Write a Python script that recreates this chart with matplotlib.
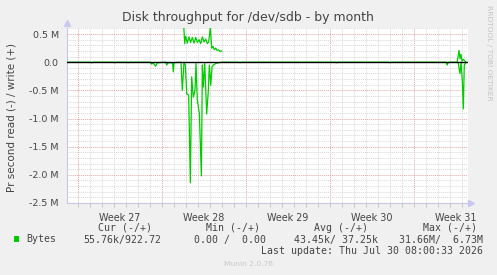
#!/usr/bin/env python3
import numpy as np
import matplotlib
matplotlib.use("Agg")
import matplotlib.pyplot as plt
from matplotlib.ticker import FixedLocator

W, H = 497, 275
nan = np.nan

# x in days from Monday of week 27, values in M bytes/s
week_labels = ["Week 27", "Week 28", "Week 29", "Week 30", "Week 31"]
week_starts = [0, 7, 14, 21, 28]

y_ticks = [0.5, 0.0, -0.5, -1.0, -1.5, -2.0, -2.5]
y_tick_labels = ["0.5 M", "0.0", "-0.5 M", "-1.0 M", "-1.5 M", "-2.0 M", "-2.5 M"]

read_days = [-0.92, 1.0, 1.14, 1.25, 3.0, 3.08, 3.17, 4.1, 4.17, 4.25, 6.0, 6.14, 6.25,
             6.47, 6.62, 7.3, 7.39, 7.5, 7.875, 7.94, 8.0, 8.58, 8.69, 8.83, 8.94, 9.06,
             9.22, 9.36, 9.47, 9.61, 9.75, 9.83, 9.94, 10.11, 10.28, 10.36, 10.44, 10.56,
             10.72, 10.86, 10.94, 11.06, 11.17, 11.28, 11.5, 11.97, 13.4, 13.5, 13.6,
             21.5, 21.56, 21.65, 25.9, 26.0, 26.1, 30.67, 30.77, 30.87, 31.67, 31.83,
             31.92, 32.03, 32.11, 32.19, 32.29]
read_vals = [0.0, 0.0, -0.012, 0.0, 0.0, -0.01, 0.0, 0.0, -0.01, 0.0, 0.0, -0.035, -0.01,
             -0.07, -0.01, 0.0, -0.05, -0.01, -0.01, -0.17, -0.01, 0.0, -0.5, 0.0, -0.05, -0.56,
             -0.59, -2.14, -0.26, -0.62, -0.5, -0.02, -0.67, -0.91, -2.02, -0.05, -0.44, -0.02,
             -0.92, -0.5, -0.05, -0.41, -0.08, -0.05, -0.02, 0.0, 0.0, -0.01, 0.0,
             0.0, -0.01, 0.0, 0.0, -0.01, 0.0, 0.0, -0.05, 0.0, 0.0, -0.2,
             0.0, -0.35, -0.83, -0.05, -0.02]

write_days = [8.81, 8.89, 8.97, 9.11, 9.25, 9.38, 9.53, 9.67, 9.81, 9.94, 10.08, 10.22,
              10.36, 10.5, 10.64, 10.78, 10.89, 11.03, 11.14, 11.25, 11.36, 11.47, 11.58,
              11.71, 11.83, 11.97, 12.0,
              31.6, 31.75, 31.83, 31.92, 32.0, 32.1, 32.2, 32.3]
write_vals = [0.64, 0.33, 0.46, 0.34, 0.45, 0.35, 0.44, 0.34, 0.44, 0.35, 0.40, 0.33,
              0.45, 0.36, 0.41, 0.33, 0.36, 0.62, 0.25, 0.28, 0.22, 0.25, 0.21,
              0.22, 0.19, 0.20, nan,
              0.0, 0.21, 0.06, 0.14, 0.02, 0.05, 0.03, 0.01]

x_min, x_max = -0.92, 32.5
y_min, y_max = -2.5, 0.607

GREEN = "#00cc00"
TEXT = "#444444"
BG = "#f0f0f0"


def fx(px):
    return px / W


def fy(py):
    return 1 - py / H


fig = plt.figure(figsize=(W / 100, H / 100), dpi=100, facecolor=BG)
ax = fig.add_axes([fx(67), fy(203), (468 - 67) / W, (203 - 28) / H])
ax.set_facecolor("white")
ax.set_xlim(x_min, x_max)
ax.set_ylim(y_min, y_max)

# grid
dot = (0, (1, 1))
for d in np.arange(np.ceil(x_min), x_max, 1):
    major = any(abs(d - s) < 1e-6 for s in week_starts)
    ax.axvline(d, color="#e6a6a6" if major else "#d8d8d8", lw=0.7, ls=dot, zorder=1)
for v in np.arange(-25, 7, 1) / 10:
    major = abs(v * 2 - round(v * 2)) < 1e-6
    ax.axhline(v, color="#e6a6a6" if major else "#d8d8d8", lw=0.7, ls=dot, zorder=1)

ax.axhline(0, color="black", lw=1.0, zorder=3)
ax.plot(read_days, read_vals, color=GREEN, lw=0.9, zorder=2)
ax.plot(write_days, write_vals, color=GREEN, lw=0.9, zorder=2)

for s in ["top", "right"]:
    ax.spines[s].set_visible(False)
for s in ["left", "bottom"]:
    ax.spines[s].set_color("#c8c8e8")
    ax.spines[s].set_linewidth(0.8)
ax.plot([0], [1.03], marker="^", ms=4, color="#c8c8f0", transform=ax.transAxes, clip_on=False)
ax.plot([1.008], [0], marker=">", ms=4, color="#c8c8f0", transform=ax.transAxes, clip_on=False)

# x ticks: labels at week centers, tick marks every day
centers = [s + 3.5 for s in week_starts]
ax.set_xticks(centers)
ax.set_xticklabels(week_labels, fontsize=6.9, color=TEXT)
ax.tick_params(axis="x", which="major", length=0, pad=7)
days = list(np.arange(np.ceil(x_min), x_max, 1))
ax.xaxis.set_minor_locator(FixedLocator(days))
ax.tick_params(axis="x", which="minor", length=3, width=0.7, color="#c8c8c8")
for t, d in zip(ax.xaxis.get_minor_ticks(), days):
    if any(abs(d - s) < 1e-6 for s in week_starts):
        t.tick1line.set_color("#e08080")

ax.set_yticks(y_ticks)
ax.set_yticklabels(y_tick_labels, fontsize=6.8, color=TEXT)
ax.tick_params(axis="y", length=0, pad=6)

fig.text(fx(12), fy(117), "Pr second read (-) / write (+)", rotation=90,
         ha="center", va="center", fontsize=7.5, color=TEXT)
fig.text(fx(248), fy(18), "Disk throughput for /dev/sdb - by month",
         ha="center", va="center", fontsize=9.0, color=TEXT)
fig.text(fx(489), fy(5), "RRDTOOL / TOBI OETIKER", rotation=270,
         ha="center", va="top", fontsize=5.4, color="#c4c4c4")

# legend / stats
mono = dict(family="DejaVu Sans Mono", fontsize=7.1, color=TEXT, va="center", ha="right")
headers = ["Cur (-/+)", "Min (-/+)", "Avg (-/+)", "Max (-/+)"]
values = ["55.76k/922.72", "0.00 /  0.00", "43.45k/ 37.25k", "31.66M/  6.73M"]
head_right = [152, 260, 368, 477]
val_right = [161, 266, 378, 483]
for h, r in zip(headers, head_right):
    fig.text(fx(r), fy(228), h, **mono)
for v, r in zip(values, val_right):
    fig.text(fx(r), fy(239.5), v, **mono)
fig.text(fx(483), fy(251.5), "Last update: Thu Jul 30 08:00:33 2026", **mono)
fig.patches.append(plt.Rectangle((fx(14), fy(242)), 5 / W, 6 / H, transform=fig.transFigure,
                                 facecolor=GREEN, edgecolor="none"))
fig.text(fx(26), fy(239.5), "Bytes", family="DejaVu Sans Mono", fontsize=7.1,
         color=TEXT, va="center", ha="left")
fig.text(fx(248), fy(264), "Munin 2.0.76", ha="center", va="center", fontsize=5.4,
         color="#c8c8c8")

fig.savefig("out.png", dpi=100, facecolor=BG)
